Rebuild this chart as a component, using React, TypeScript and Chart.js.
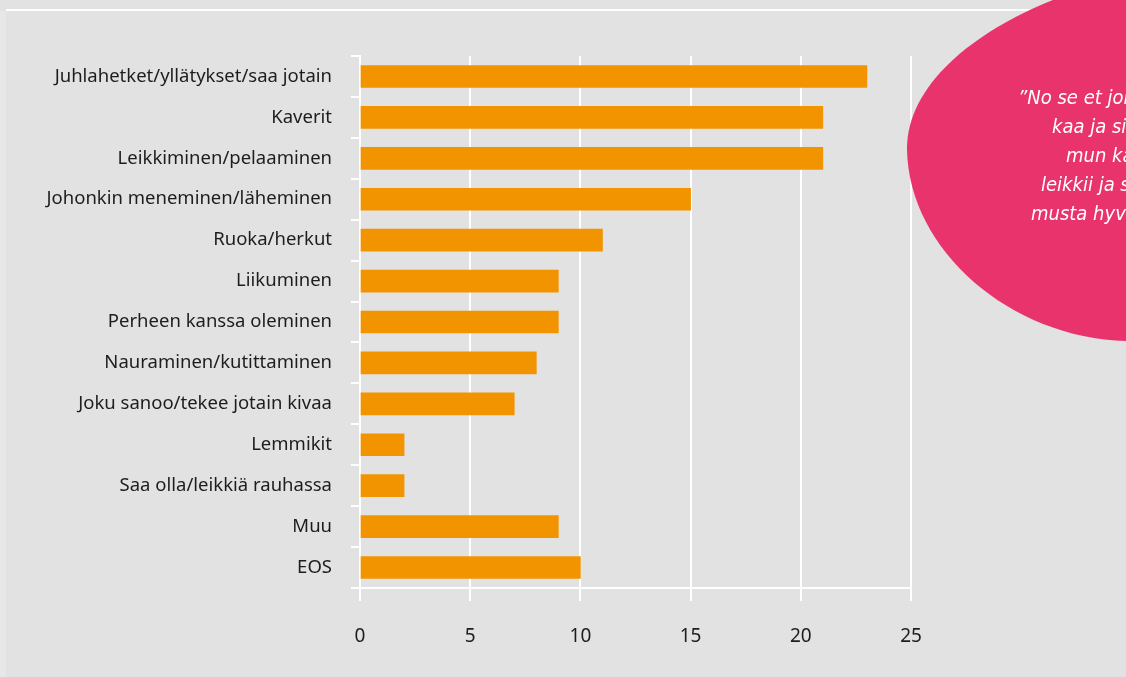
import React, { useEffect, useRef } from "react";
import { Chart, registerables } from "chart.js";

Chart.register(...registerables);

const categories = [
  "Juhlahetket/yllätykset/saa jotain",
  "Kaverit",
  "Leikkiminen/pelaaminen",
  "Johonkin meneminen/läheminen",
  "Ruoka/herkut",
  "Liikuminen",
  "Perheen kanssa oleminen",
  "Nauraminen/kutittaminen",
  "Joku sanoo/tekee jotain kivaa",
  "Lemmikit",
  "Saa olla/leikkiä rauhassa",
  "Muu",
  "EOS",
];
const values = [23, 21, 21, 15, 11, 9, 9, 8, 7, 2, 2, 9, 10];
const xTicks = [0, 5, 10, 15, 20, 25];
const quoteLines = [
  "”No se et joku tulee",
  "kaa ja sit",
  "mun kans",
  "leikkii ja se on",
  "musta hyvää.”",
];
const quoteStarts = [1018, 1052, 1066, 1041, 1031];

const W = 1126;
const H = 677;

const backgroundPlugin = {
  id: "bg",
  beforeDraw(chart: any) {
    const ctx = chart.ctx;
    ctx.save();
    ctx.fillStyle = "#e2e2e2";
    ctx.fillRect(0, 0, W, H);
    ctx.fillStyle = "#e7e7e7";
    ctx.fillRect(0, 11, 6, H - 11);
    ctx.fillStyle = "#ffffff";
    ctx.fillRect(6, 9, W - 6, 2);
    ctx.restore();
  },
};

const blobPlugin = {
  id: "blob",
  afterDraw(chart: any) {
    const ctx = chart.ctx;
    ctx.save();
    ctx.fillStyle = "#e8336d";
    ctx.beginPath();
    ctx.moveTo(1058, -2);
    ctx.bezierCurveTo(975, 30, 906, 85, 907, 150);
    ctx.bezierCurveTo(909, 250, 1010, 338, 1126, 341);
    ctx.lineTo(1130, 341);
    ctx.lineTo(1130, -2);
    ctx.closePath();
    ctx.fill();
    ctx.fillStyle = "#ffffff";
    ctx.font = "italic 20px 'DejaVu Sans Condensed', 'DejaVu Sans', sans-serif";
    ctx.textAlign = "left";
    ctx.textBaseline = "middle";
    quoteLines.forEach((line, i) => {
      ctx.fillText(line, quoteStarts[i], 99 + i * 29);
    });
    ctx.restore();
  },
};

export default function App() {
  const ref = useRef<HTMLCanvasElement | null>(null);
  useEffect(() => {
    if (!ref.current) return;
    const chart = new Chart(ref.current, {
      type: "bar",
      data: {
        labels: categories,
        datasets: [
          {
            data: values,
            backgroundColor: "#f29400",
            barThickness: 22,
            borderWidth: 0,
          },
        ],
      },
      options: {
        indexAxis: "y",
        responsive: false,
        animation: false,
        layout: { padding: { left: 0, right: 215, top: 56, bottom: 0 } },
        plugins: { legend: { display: false }, tooltip: { enabled: false } },
        scales: {
          x: {
            min: 0,
            max: 25,
            afterBuildTicks(scale: any) {
              scale.ticks = xTicks.map((v) => ({ value: v }));
            },
            afterFit(scale: any) {
              scale.height = H - 588;
            },
            grid: {
              color: "#ffffff",
              lineWidth: 2,
              drawTicks: true,
              tickLength: 13,
            },
            border: { display: true, color: "#ffffff", width: 2 },
            ticks: {
              color: "#1d1d1b",
              font: { family: "'Noto Sans', sans-serif", size: 19 },
              padding: 24,
            },
          },
          y: {
            afterFit(scale: any) {
              scale.width = 360;
            },
            grid: {
              color: "#ffffff",
              lineWidth: 2,
              drawOnChartArea: false,
              drawTicks: true,
              tickLength: 9,
              offset: true,
            },
            border: { display: true, color: "#ffffff", width: 2 },
            ticks: {
              color: "#1d1d1b",
              font: { family: "'Noto Sans', sans-serif", size: 18.5 },
              padding: 19,
            },
          },
        },
      },
      plugins: [backgroundPlugin, blobPlugin],
    });
    return () => chart.destroy();
  }, []);
  return (
    <div style={{ position: "absolute", left: 0, top: 0, width: W, height: H }}>
      <canvas ref={ref} width={W} height={H} style={{ display: "block" }} />
    </div>
  );
}
